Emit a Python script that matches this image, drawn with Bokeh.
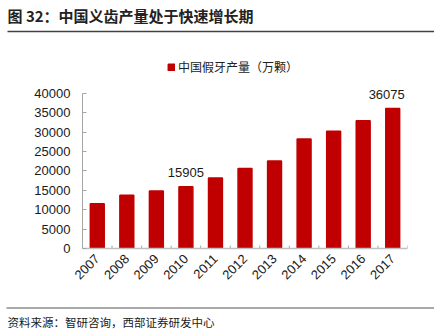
import math
from bokeh.plotting import figure
from bokeh.models import (ColumnDataSource, Range1d, FactorRange, FixedTicker,
                          Label, LabelSet, Legend, LegendItem)
from bokeh.layouts import column
from bokeh.core.properties import value
from bokeh.embed import file_html
from bokeh.resources import INLINE

# ---------------- data ----------------
years = ["2007", "2008", "2009", "2010", "2011", "2012",
         "2013", "2014", "2015", "2016", "2017"]
production = [11550, 13700, 14800, 15905, 18150, 20650,
              22550, 28200, 30200, 32950, 36075]
y_ticks = [0, 5000, 10000, 15000, 20000, 25000, 30000, 35000, 40000]
labelled_years = ["2010", "2017"]
title_text = "图 32：中国义齿产量处于快速增长期"
legend_text = "中国假牙产量（万颗）"
source_text = "资料来源：智研咨询，西部证券研发中心"

W = 434
CJK = "Noto Sans CJK SC"
NUM = "Liberation Sans"
RED = "#C00000"

# ---------------- header ----------------
header = figure(width=W, height=36, x_range=Range1d(0, W), y_range=Range1d(0, 36),
                toolbar_location=None, output_backend="svg", min_border=0,
                x_axis_location=None, y_axis_location=None, outline_line_color=None,
                frame_align=False)
header.grid.visible = False
header.add_layout(Label(x=7, y=21, text=title_text, text_font=CJK,
                        text_font_size="15px", text_font_style="bold",
                        text_color="#222222", text_baseline="middle", text_align="left"))
header.segment(x0=[7], y0=[5], x1=[W], y1=[5], line_color="#404040", line_width=1.3)

# ---------------- main chart ----------------
p = figure(width=W, height=264, x_range=FactorRange(factors=years, range_padding=0),
           y_range=Range1d(0, 54640), toolbar_location=None, output_backend="svg",
           min_border_left=82, min_border_right=27, min_border_top=0, min_border_bottom=52,
           outline_line_color=None, frame_align=False)
p.grid.visible = False

src = ColumnDataSource(dict(year=years, value=production))
bars = p.vbar(x="year", top="value", width=0.47, source=src,
              fill_color=RED, line_color=RED, line_width=1.5)

# tick marks at category boundaries
bx = [(y, -0.5) for y in years] + [(years[-1], 0.5)]
p.segment(x0=bx, y0=[0] * len(bx), x1=bx, y1=[780] * len(bx),
          line_color="#a6a6a6", line_width=1)

# data labels (last one nudged left so it stays inside the plot area)
lab_vals = [production[years.index(y)] for y in labelled_years]
lab_dx = [0 if y != years[-1] else -6 for y in labelled_years]
lab_src = ColumnDataSource(dict(year=labelled_years, value=lab_vals, dx=lab_dx,
                                text=[str(v) for v in lab_vals]))
p.add_layout(LabelSet(x="year", y="value", text="text", source=lab_src,
                      x_offset="dx", y_offset=10, text_align="center",
                      text_baseline="alphabetic",
                      text_font=value(NUM), text_font_size="13px", text_color="#1a1a1a"))

# legend
legend = Legend(items=[LegendItem(label=legend_text, renderers=[bars])],
                location=(85, 173), orientation="horizontal",
                glyph_width=8, glyph_height=8, label_standoff=3,
                padding=0, margin=0, spacing=0, label_height=12,
                border_line_color=None, background_fill_alpha=0,
                label_text_font=CJK, label_text_font_size="12px",
                label_text_color="#222222")
p.add_layout(legend)

# axes
p.yaxis.ticker = FixedTicker(ticks=y_ticks)
p.yaxis.bounds = (0, 40000)
p.yaxis.major_tick_in = 4
p.yaxis.major_tick_out = 0
p.yaxis.minor_tick_line_color = None
p.yaxis.major_label_standoff = 12
p.yaxis.axis_line_color = "#a6a6a6"
p.yaxis.major_tick_line_color = "#a6a6a6"
p.yaxis.major_label_text_font = NUM
p.yaxis.major_label_text_font_size = "13px"
p.yaxis.major_label_text_color = "#1a1a1a"

p.xaxis.major_label_orientation = math.pi / 4
p.xaxis.major_tick_in = 0
p.xaxis.major_tick_out = 0
p.xaxis.major_label_standoff = 8
p.xaxis.axis_line_color = "#c0c0c0"
p.xaxis.axis_line_width = 1.5
p.xaxis.major_label_text_font = NUM
p.xaxis.major_label_text_font_size = "13px"
p.xaxis.major_label_text_color = "#1a1a1a"

# ---------------- footer ----------------
footer = figure(width=W, height=31, x_range=Range1d(0, W), y_range=Range1d(0, 31),
                toolbar_location=None, output_backend="svg", min_border=0,
                x_axis_location=None, y_axis_location=None, outline_line_color=None,
                frame_align=False)
footer.grid.visible = False
footer.segment(x0=[6], y0=[23.5], x1=[W], y1=[23.5], line_color="#8c8c8c", line_width=1.5)
footer.add_layout(Label(x=7, y=10, text=source_text, text_font=CJK,
                        text_font_size="11.5px", text_color="#1a1a1a",
                        text_baseline="middle", text_align="left"))

layout = column(header, p, footer, spacing=0)
open("out.html", "w").write(file_html(layout, INLINE))
